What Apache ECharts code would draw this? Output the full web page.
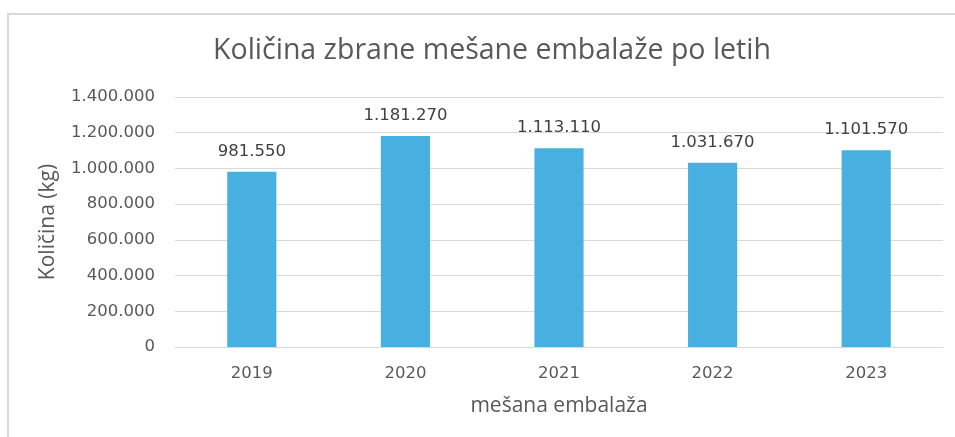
<!DOCTYPE html>
<html><head><meta charset="utf-8">
<script src="https://cdn.jsdelivr.net/npm/echarts@6/dist/echarts.min.js"></script>
<style>html,body{margin:0;padding:0;background:#fff}#c{width:955px;height:437px}</style>
</head><body><div id="c"></div>
<script>
const title = 'Količina zbrane mešane embalaže po letih';
const categories = ['2019', '2020', '2021', '2022', '2023'];
const values = [981550, 1181270, 1113110, 1031670, 1101570];
const yAxisName = 'Količina (kg)';
const xAxisName = 'mešana embalaža';

function fmt(v) {
  return String(Math.round(v)).replace(/\B(?=(\d{3})+(?!\d))/g, '.');
}
const font = '"Open Sans", "DejaVu Sans", sans-serif';
const numFont = '"DejaVu Sans", sans-serif';
const chart = echarts.init(document.getElementById('c'), null, {renderer: 'canvas'});
chart.setOption({
  animation: false,
  title: {
    text: title, left: 487, top: 31, textAlign: 'center',
    textStyle: {fontFamily: font, fontSize: 28.5, fontWeight: 'normal', color: '#595959'}
  },
  graphic: [{
    type: 'rect', shape: {x: 8, y: 14, width: 1200, height: 1000},
    style: {fill: 'none', stroke: '#d9d9d9', lineWidth: 2}, silent: true
  }],
  grid: {left: 175, right: 12, top: 97, bottom: 90, containLabel: false},
  xAxis: {
    type: 'category', data: categories,
    name: xAxisName, nameLocation: 'middle', nameGap: 49,
    nameTextStyle: {fontFamily: font, fontSize: 21, color: '#595959'},
    axisLine: {show: true, lineStyle: {color: '#d9d9d9', width: 1}},
    axisTick: {show: false},
    axisLabel: {fontFamily: numFont, fontSize: 16.5, color: '#595959', margin: 18}
  },
  yAxis: {
    type: 'value', min: 0, max: 1400000, interval: 200000,
    name: yAxisName, nameLocation: 'middle', nameGap: 116,
    nameTextStyle: {fontFamily: font, fontSize: 21, color: '#595959'},
    axisLine: {show: false}, axisTick: {show: false},
    axisLabel: {fontFamily: numFont, fontSize: 16.5, color: '#595959', margin: 20, formatter: fmt},
    splitLine: {lineStyle: {color: '#d9d9d9', width: 1}}
  },
  series: [{
    type: 'bar', data: values, barWidth: '32%',
    itemStyle: {color: '#47B0E0'},
    label: {show: true, position: 'top', distance: 12, formatter: p => fmt(p.value),
      fontFamily: numFont, fontSize: 16.5, color: '#404040'}
  }]
});
</script></body></html>
